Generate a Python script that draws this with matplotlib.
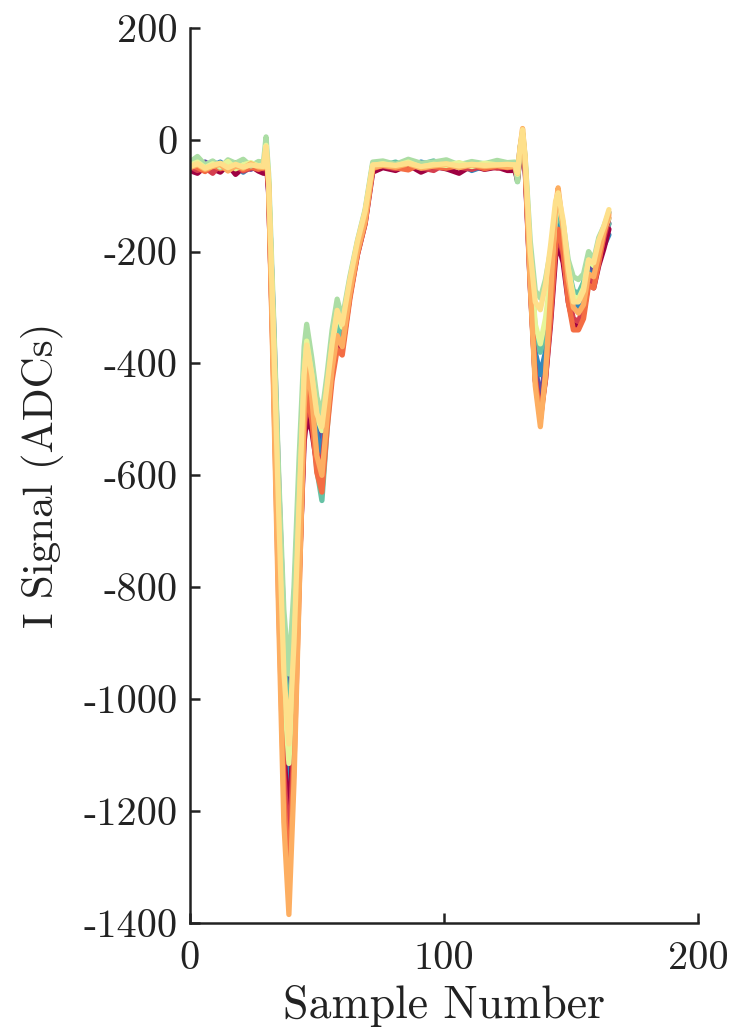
import matplotlib
matplotlib.use("Agg")
import matplotlib.pyplot as plt

plt.rcParams['font.family'] = 'serif'
plt.rcParams['font.serif'] = ['cmr10', 'DejaVu Serif']
plt.rcParams['axes.unicode_minus'] = False

# sample positions shared by every trace
samples = [0, 3, 6, 9, 12, 15, 18, 21, 24, 27,
           29, 30, 31, 33, 35, 37, 39, 41, 43, 45,
           46, 48, 50, 52, 54, 56, 58, 60, 63, 66,
           69, 72, 76, 81, 86, 91, 96, 101, 106, 111,
           116, 121, 125, 128, 129, 130, 131, 132, 134, 136,
           138, 140, 142, 144, 145, 147, 149, 151, 153, 155,
           157, 159, 161, 163, 165]

purple = [-45, -52, -40, -48, -55, -42, -50, -46, -53, -44,
          -48, -20, -90, -330, -615, -870, -990, -830, -610, -420,
          -376, -430, -520, -545, -470, -390, -320, -345, -255, -185,
          -130, -48, -42, -50, -38, -47, -52, -40, -46, -51,
          -43, -48, -45, -47, -62, -15, 10, -40, -230, -400,
          -470, -400, -300, -190, -150, -190, -260, -300, -305, -270,
          -225, -240, -200, -180, -150]
blue = [-50, -44, -55, -47, -40, -52, -45, -58, -48, -42,
        -55, -25, -80, -385, -720, -1020, -1160, -960, -700, -470,
        -420, -460, -530, -560, -480, -400, -340, -360, -270, -195,
        -140, -52, -48, -44, -53, -40, -46, -50, -42, -55,
        -47, -43, -50, -50, -70, -25, 5, -45, -240, -380,
        -420, -380, -290, -170, -140, -180, -250, -290, -300, -290,
        -235, -250, -215, -190, -170]
teal = [-42, -48, -52, -39, -46, -55, -41, -49, -44, -51,
        -45, -15, -75, -350, -650, -925, -1050, -880, -660, -450,
        -400, -480, -590, -645, -520, -410, -330, -350, -260, -190,
        -135, -45, -46, -40, -50, -44, -38, -52, -47, -41,
        -49, -45, -43, -44, -75, -20, 10, -38, -210, -340,
        -380, -340, -270, -150, -130, -160, -230, -270, -275, -255,
        -210, -225, -185, -165, -150]
darkred = [-55, -60, -48, -52, -58, -45, -62, -50, -47, -56,
           -60, -30, -95, -410, -770, -1090, -1235, -1040, -780, -540,
           -497, -520, -580, -600, -500, -420, -360, -375, -280, -205,
           -150, -58, -50, -55, -45, -58, -48, -52, -60, -46,
           -53, -49, -55, -55, -72, -30, 0, -50, -260, -430,
           -490, -430, -330, -210, -185, -220, -290, -330, -335, -310,
           -255, -265, -225, -195, -160]
red = [-48, -55, -50, -60, -44, -53, -47, -56, -51, -45,
       -52, -25, -85, -425, -800, -1130, -1280, -1080, -790, -520,
       -470, -500, -560, -585, -490, -415, -355, -370, -275, -200,
       -145, -50, -47, -52, -44, -50, -55, -42, -49, -53,
       -46, -51, -48, -50, -68, -28, 5, -46, -255, -425,
       -500, -420, -320, -195, -170, -205, -280, -320, -325, -300,
       -245, -255, -215, -175, -140]
orange = [-44, -50, -57, -46, -52, -48, -41, -54, -49, -53,
          -50, -20, -85, -440, -830, -1170, -1330, -1120, -810, -510,
          -450, -500, -595, -630, -520, -430, -375, -385, -285, -205,
          -150, -52, -45, -50, -54, -43, -48, -51, -46, -44,
          -52, -47, -50, -48, -66, -22, 8, -42, -250, -430,
          -500, -430, -315, -185, -160, -200, -290, -340, -340, -320,
          -260, -265, -220, -170, -130]
green = [-40, -30, -45, -38, -50, -36, -42, -35, -47, -39,
         -40, 5, -60, -320, -600, -840, -955, -800, -570, -370,
         -330, -390, -460, -490, -420, -340, -285, -320, -245, -180,
         -125, -40, -38, -44, -35, -42, -40, -36, -45, -39,
         -43, -37, -41, -40, -75, -15, 12, -30, -180, -270,
         -283, -250, -200, -135, -120, -150, -215, -245, -250, -240,
         -200, -215, -175, -155, -130]
lime = [-46, -40, -50, -43, -48, -39, -52, -45, -41, -47,
        -45, -10, -70, -370, -690, -980, -1115, -930, -670, -420,
        -360, -420, -495, -520, -450, -370, -310, -335, -255, -185,
        -130, -46, -43, -47, -40, -49, -44, -46, -41, -48,
        -42, -45, -47, -45, -62, -18, 10, -36, -215, -330,
        -365, -320, -250, -135, -110, -150, -230, -280, -285, -265,
        -215, -225, -185, -160, -140]
lightorange = [-50, -45, -53, -48, -44, -56, -47, -51, -43, -49,
               -50, -15, -80, -460, -860, -1220, -1385, -1150, -820, -480,
               -400, -460, -565, -600, -500, -410, -350, -370, -275, -200,
               -145, -50, -46, -49, -43, -51, -47, -44, -50, -45,
               -48, -46, -49, -47, -60, -15, 20, -35, -260, -440,
               -513, -420, -280, -120, -86, -160, -250, -300, -310, -295,
               -240, -245, -205, -165, -135]
yellow = [-48, -43, -51, -46, -42, -50, -44, -49, -45, -47,
          -48, -12, -72, -360, -670, -950, -1080, -900, -650, -420,
          -367, -420, -490, -513, -440, -365, -305, -330, -250, -182,
          -128, -45, -44, -46, -42, -48, -45, -43, -47, -44,
          -46, -45, -44, -45, -60, -15, 18, -30, -200, -290,
          -304, -260, -190, -110, -95, -145, -230, -290, -290, -270,
          -215, -220, -180, -155, -125]

traces = [purple, blue, teal, darkred, red, orange, green, lime, lightorange, yellow]
colours = ['#5e4fa2', '#3288bd', '#66c2a5', '#9e0142', '#d53e4f',
           '#f46d43', '#abdda4', '#e6f598', '#fdae61', '#fee08b']

xticks = [0, 100, 200]
yticks = [200, 0, -200, -400, -600, -800, -1000, -1200, -1400]
yticklabels = ['200', '0', '-200', '-400', '-600', '-800', '-1000', '-1200', '-1400']

fig = plt.figure(figsize=(7.33, 10.30), dpi=100)
ax = fig.add_axes([0.259, 0.104, 0.693, 0.869])

for tr, c in zip(traces, colours):
    ax.plot(samples, tr, color=c, lw=3.8, solid_capstyle='round', solid_joinstyle='round')

ax.set_xlim(0, 200)
ax.set_ylim(-1400, 200)
ax.set_xticks(xticks)
ax.set_xticklabels([str(v) for v in xticks])
ax.set_yticks(yticks)
ax.set_yticklabels(yticklabels)

for s in ['top', 'right']:
    ax.spines[s].set_visible(False)
for s in ['left', 'bottom']:
    ax.spines[s].set_linewidth(1.8)
    ax.spines[s].set_color('#222222')
ax.tick_params(direction='in', length=7, width=1.8, labelsize=29, colors='#222222')
ax.tick_params(axis='x', pad=13)
ax.tick_params(axis='y', pad=9)

ax.set_xlabel('Sample Number', fontsize=33, labelpad=6, color='#222222')
ax.set_ylabel('I Signal (ADCs)', fontsize=31, labelpad=14, color='#222222')

fig.savefig('out.png', dpi=100)
